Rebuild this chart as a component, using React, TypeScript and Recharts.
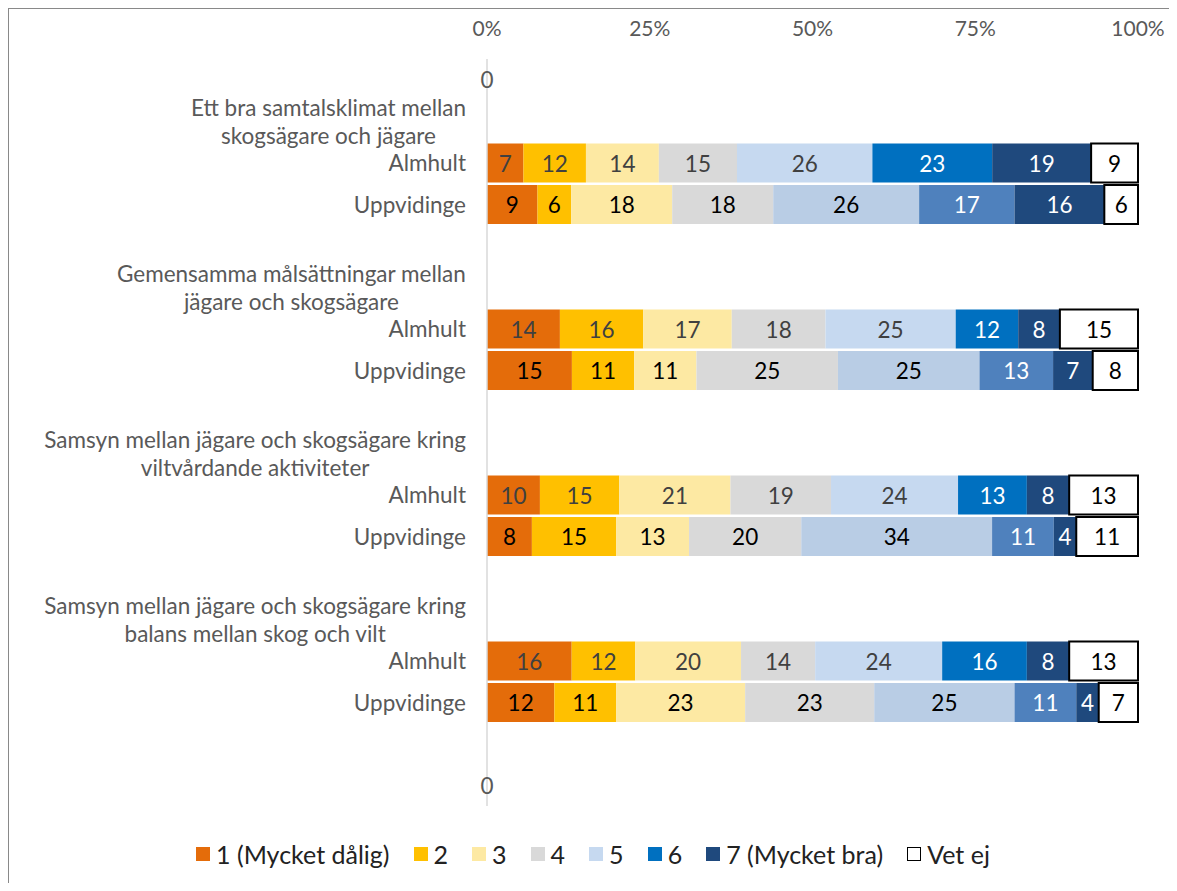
import { BarChart, Bar, XAxis, YAxis, Legend, Cell, LabelList } from 'recharts';

const questions = [
  ['Ett bra samtalsklimat mellan', 'skogsägare och jägare'],
  ['Gemensamma målsättningar mellan', 'jägare och skogsägare'],
  ['Samsyn mellan jägare och skogsägare kring', 'viltvårdande aktiviteter'],
  ['Samsyn mellan jägare och skogsägare kring', 'balans mellan skog och vilt'],
];
const places = ['Almhult', 'Uppvidinge'];
const seriesNames = ['1 (Mycket dålig)', '2', '3', '4', '5', '6', '7 (Mycket bra)', 'Vet ej'];
const xTicks = [0, 0.25, 0.5, 0.75, 1];

// antal svar per betyg, ordning: fråga 1 Almhult, fråga 1 Uppvidinge, fråga 2 Almhult ...
const s1 = [7, 9, 14, 15, 10, 8, 16, 12];
const s2 = [12, 6, 16, 11, 15, 15, 12, 11];
const s3 = [14, 18, 17, 11, 21, 13, 20, 23];
const s4 = [15, 18, 18, 25, 19, 20, 14, 23];
const s5 = [26, 26, 25, 25, 24, 34, 24, 25];
const s6 = [23, 17, 12, 13, 13, 11, 16, 11];
const s7 = [19, 16, 8, 7, 8, 4, 8, 4];
const vetEj = [9, 6, 15, 8, 13, 11, 13, 7];
const series = [s1, s2, s3, s4, s5, s6, s7, vetEj];

const almColors = ['#E46C0A', '#FFC000', '#FDE9A3', '#D9D9D9', '#C6D9F0', '#0070C0', '#1F497D', '#FFFFFF'];
const uppColors = ['#E46C0A', '#FFC000', '#FDE9A3', '#D9D9D9', '#B9CDE5', '#4F81BD', '#1F497D', '#FFFFFF'];

const FONT = 'Lato';
const FS = 22.5;
const TICK_FS = 21;
const LEGEND_FS = 25;
const GRAY = '#595959';

const keys = seriesNames.map((_, i) => `s${i}`);
const zeros = Object.fromEntries(keys.map((k) => [k, 0]));

const rows: any[] = [{ id: 'top', kind: 'zero', ...zeros }];
questions.forEach((lines, q) => {
  rows.push({ id: `h${q}`, kind: 'header', lines, ...zeros });
  places.forEach((place, p) => {
    const idx = q * 2 + p;
    const r: any = { id: `b${idx}`, kind: 'bar', place };
    keys.forEach((k, i) => (r[k] = series[i][idx]));
    rows.push(r);
  });
  rows.push({ id: `g${q}`, kind: 'blank', ...zeros });
});
rows.push({ id: 'bottom', kind: 'zero', ...zeros });

let ctx: CanvasRenderingContext2D | null = null;
function textWidth(s: string) {
  if (!ctx) ctx = document.createElement('canvas').getContext('2d');
  if (!ctx) return s.length * FS * 0.5;
  ctx.font = `${FS}px ${FONT}`;
  return ctx.measureText(s).width;
}

const YTick = (props: any) => {
  const { x, y, payload } = props;
  const row = rows.find((r) => r.id === payload.value);
  if (!row) return null;
  if (row.kind === 'header') {
    const maxW = Math.max(...row.lines.map(textWidth));
    const cx = x - maxW / 2;
    return (
      <g>
        {row.lines.map((l: string, i: number) => (
          <text key={i} x={cx} y={y - 14 + i * 28} textAnchor="middle" dominantBaseline="central"
            fontFamily={FONT} fontSize={FS} fill={GRAY}>{l}</text>
        ))}
      </g>
    );
  }
  if (row.kind === 'bar') {
    return (
      <text x={x} y={y} textAnchor="end" dominantBaseline="central" fontFamily={FONT} fontSize={FS} fill={GRAY}>
        {row.place}
      </text>
    );
  }
  if (row.kind === 'zero') {
    // tom kategori: Excel skriver ut värdet 0 vid axeln
    return (
      <text x={x + 21} y={y} textAnchor="middle" dominantBaseline="central" fontFamily={FONT} fontSize={FS} fill={GRAY}>
        0
      </text>
    );
  }
  return null;
};

const XTick = (props: any) => {
  const { x, payload } = props;
  return (
    <text x={x} y={18} textAnchor="middle" dominantBaseline="central" fontFamily={FONT} fontSize={TICK_FS} fill={GRAY}>
      {`${Math.round(payload.value * 100)}%`}
    </text>
  );
};

const makeLabel = (si: number) => (props: any) => {
  const vb = props.viewBox ?? props;
  const row = rows.find((r) => r.id === props.value);
  if (!row || row.kind !== 'bar') return null;
  const value = row[keys[si]];
  if (!value) return null;
  const x = vb.x ?? props.x;
  const y = vb.y ?? props.y;
  const w = vb.width ?? props.width;
  const h = vb.height ?? props.height;
  let color = row.place === 'Uppvidinge' ? '#000000' : '#404040';
  if (si === 5 || si === 6) color = '#FFFFFF';
  if (si === 7) color = '#000000';
  return (
    <text x={x + w / 2} y={y + h / 2} textAnchor="middle" dominantBaseline="central" fontFamily={FONT} fontSize={FS} fill={color}>
      {value}
    </text>
  );
};

const renderLegend = (props: any) => {
  const items = props.payload ?? [];
  return (
    <div style={{ display: 'flex', justifyContent: 'center', alignItems: 'center', fontFamily: FONT, fontSize: LEGEND_FS, color: '#222' }}>
      {items.map((entry: any, i: number) => (
        <div key={entry.value} style={{ display: 'flex', alignItems: 'center', marginRight: i < items.length - 1 ? 24 : 0 }}>
          <span
            style={{
              display: 'inline-block',
              width: 14,
              height: 14,
              background: almColors[i],
              border: i === 7 ? '1.5px solid #000' : 'none',
              boxSizing: 'border-box',
              marginRight: 6,
            }}
          />
          <span>{entry.value}</span>
        </div>
      ))}
    </div>
  );
};

export default function App() {
  return (
    <div style={{ width: 1168, height: 874, borderLeft: '1px solid #898989', borderTop: '1px solid #898989' }}>
      <BarChart
        layout="vertical"
        width={1168}
        height={874}
        data={rows}
        stackOffset="expand"
        barCategoryGap={1.5}
        margin={{ top: 0, right: 39, bottom: 77, left: 0 }}
      >
        <XAxis type="number" orientation="top" domain={[0, 1]} ticks={xTicks} axisLine={false} tickLine={false}
          height={50} tick={XTick} interval={0} />
        <YAxis type="category" dataKey="id" width={478} axisLine={{ stroke: '#D9D9D9', strokeWidth: 1.5 }}
          tickLine={false} tickSize={0} tickMargin={21} tick={YTick} interval={0} />
        <Legend layout="horizontal" verticalAlign="middle" align="center" content={renderLegend}
          wrapperStyle={{ top: 830, left: 0, width: 1168 }} />
        {keys.map((k, i) => (
          <Bar key={k} dataKey={k} name={seriesNames[i]} stackId="a" fill={almColors[i]} isAnimationActive={false}>
            {rows.map((r) => (
              <Cell
                key={r.id}
                fill={(r.place === 'Uppvidinge' ? uppColors : almColors)[i]}
                stroke={i === 7 && r.kind === 'bar' ? '#000000' : 'none'}
                strokeWidth={i === 7 ? 2 : 0}
              />
            ))}
            <LabelList dataKey={(d: any) => d.id} content={makeLabel(i)} />
          </Bar>
        ))}
      </BarChart>
    </div>
  );
}
